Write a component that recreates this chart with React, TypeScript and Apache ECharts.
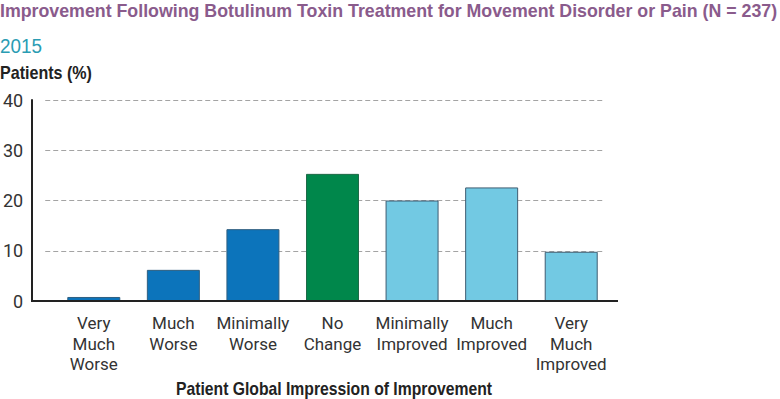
import React, { useEffect, useRef } from "react";
import * as echarts from "echarts";

const categories = [
  "Very\nMuch\nWorse",
  "Much\nWorse",
  "Minimally\nWorse",
  "No\nChange",
  "Minimally\nImproved",
  "Much\nImproved",
  "Very\nMuch\nImproved",
];
const values = [0.8, 6.2, 14.3, 25.3, 20.0, 22.6, 9.8];
const barColors = ["#0c74bb", "#0c74bb", "#0c74bb", "#00874b", "#72c9e3", "#72c9e3", "#72c9e3"];
const borderColors = ["#2f5f80", "#2f5f80", "#2f5f80", "#1f6a48", "#3f5d72", "#3f5d72", "#3f5d72"];
const yTicks = [0, 10, 20, 30, 40];

const titleText = "Improvement Following Botulinum Toxin Treatment for Movement Disorder or Pain (N = 237)";
const subtitleText = "2015";
const yAxisName = "Patients (%)";
const xAxisName = "Patient Global Impression of Improvement";

const BASE = "'Liberation Sans', Arial, sans-serif";

function measure(text: string, font: string): number {
  const c = document.createElement("canvas");
  const ctx = c.getContext("2d");
  if (!ctx) return text.length * 8;
  ctx.font = font;
  return ctx.measureText(text).width;
}

function fitted(text: string, fontSize: number, weight: string, width: number, x: number, y: number, fill: string) {
  const font = `${weight} ${fontSize}px ${BASE}`;
  const w = measure(text, font);
  const s = width / w;
  return {
    type: "text",
    x,
    y,
    scaleX: s,
    scaleY: 1,
    style: { text, font, fill, textAlign: "left", textVerticalAlign: "top" },
    z: 100,
  };
}

export default function App() {
  const ref = useRef<HTMLDivElement>(null);
  useEffect(() => {
    if (!ref.current) return;
    const chart = echarts.init(ref.current, null, { renderer: "svg" });
    chart.setOption({
      animation: false,
      backgroundColor: "#ffffff",
      grid: [
        { left: 45, right: 175, top: 100, bottom: 98 },
        { left: 54, right: 169, top: 100, bottom: 98 },
      ],
      xAxis: [
        { type: "category", gridIndex: 0, data: categories, show: false },
        {
          type: "category",
          gridIndex: 1,
          data: categories,
          axisLine: { show: false },
          axisTick: { show: false },
          axisLabel: {
            color: "#333333",
            fontSize: 17,
            fontFamily: "Roboto, sans-serif",
            lineHeight: 20.5,
            margin: 12,
            interval: 0,
            verticalAlign: "top",
          },
        },
      ],
      yAxis: [
        {
          type: "value",
          gridIndex: 0,
          min: 0,
          max: 40,
          interval: 10,
          offset: 13,
          axisLine: { show: true, lineStyle: { color: "#222222", width: 2 } },
          axisTick: { show: false },
          axisLabel: {
            color: "#333333",
            fontSize: 18,
            fontFamily: "Roboto, sans-serif",
            margin: 9,
            formatter: (v: number) => (yTicks.includes(v) ? String(v) : ""),
          },
          splitLine: {
            show: true,
            lineStyle: { color: "#a4a4a4", type: [5, 3], width: 1.2 },
          },
        },
        { type: "value", gridIndex: 1, min: 0, max: 40, interval: 10, show: false, splitLine: { show: false } },
      ],
      series: [
        {
          type: "bar",
          xAxisIndex: 1,
          yAxisIndex: 1,
          barWidth: 53,
          data: values.map((v, i) => ({
            value: v,
            itemStyle: { color: barColors[i], borderColor: borderColors[i], borderWidth: 1 },
          })),
        },
      ],
      graphic: [
        fitted(titleText, 18, "bold", 778, 0, 1.5, "#8a5b8c"),
        fitted(subtitleText, 19.5, "normal", 42, 0, 36, "#2a9cb3"),
        fitted(yAxisName, 18, "bold", 92, 0, 64.5, "#222222"),
        fitted(xAxisName, 17.5, "bold", 316, 176, 380, "#222222"),
        {
          type: "line",
          shape: { x1: 31, y1: 301, x2: 618, y2: 301 },
          style: { stroke: "#222222", lineWidth: 2 },
          z: 100,
        },
      ],
    });
    return () => chart.dispose();
  }, []);
  return <div ref={ref} style={{ width: 780, height: 399, position: "absolute", left: 0, top: 0 }} />;
}
